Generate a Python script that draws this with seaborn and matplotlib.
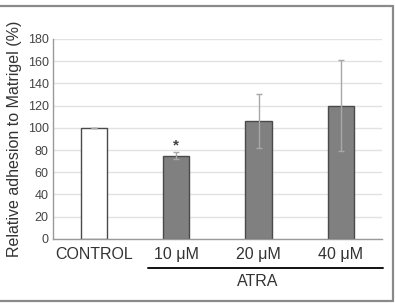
import matplotlib
matplotlib.use('Agg')
import matplotlib.pyplot as plt
import seaborn as sns
import pandas as pd
from matplotlib.lines import Line2D

# data
groups = ['CONTROL', '10 μM', '20 μM', '40 μM']
adhesion = [100, 75, 106, 120]
err = [0, 3, 24, 41]
bar_colors = ['white', '#808080', '#808080', '#808080']
y_ticks = [0, 20, 40, 60, 80, 100, 120, 140, 160, 180]

df = pd.DataFrame({'group': groups, 'adhesion': adhesion})

sns.set_style('white')
plt.rcParams['font.family'] = ['Liberation Sans', 'DejaVu Sans']

fig = plt.figure(figsize=(3.95, 3.04), dpi=100)
ax = fig.add_axes([0.134, 0.214, 0.833, 0.658])

sns.barplot(data=df, x='group', y='adhesion', hue='group', palette=bar_colors,
            legend=False, width=0.32, edgecolor='#4a4a4a', linewidth=1.0,
            ax=ax, zorder=2)
ax.errorbar(range(len(groups)), adhesion, yerr=err, fmt='none',
            ecolor='#a8a8a8', elinewidth=1.0, capsize=2.5, capthick=1.0, zorder=3)

# significance star
ax.text(1, 84, '*', ha='center', va='center', fontsize=11, color='#444444',
        fontweight='bold')

ax.set_xlim(-0.5, len(groups) - 0.5)
ax.set_ylim(0, 180)
ax.set_yticks(y_ticks)
ax.yaxis.grid(True, color='#e2e2e2', linewidth=1.0, zorder=0)
ax.set_axisbelow(True)
for s in ['top', 'right']:
    ax.spines[s].set_visible(False)
for s in ['left', 'bottom']:
    ax.spines[s].set_color('#9a9a9a')
    ax.spines[s].set_linewidth(1.0)
ax.tick_params(axis='y', labelsize=9, colors='#555555', length=2, width=0.8, pad=1)
ax.tick_params(axis='y', labelcolor='#444444')
ax.tick_params(axis='x', labelsize=11.5, length=0, pad=6, labelcolor='#333333')
ax.set_xlabel('')
ax.set_ylabel('Relative adhesion to Matrigel (%)', fontsize=11.5, color='#333333')
ax.yaxis.set_label_coords(-0.094, 0.5)

# ATRA bracket line under the treated groups
fig.add_artist(Line2D([148 / 395, 383 / 395], [1 - 267.7 / 304] * 2,
                      color='#111111', linewidth=1.4))
fig.text(258 / 395, 1 - 281 / 304, 'ATRA', ha='center', va='center',
         fontsize=11.5, color='#333333')

# outer frame (top, right, bottom)
frame_kw = dict(color='#8a8a8a', linewidth=1.6)
fig.add_artist(Line2D([0, 393 / 395], [1 - 5.5 / 304] * 2, **frame_kw))
fig.add_artist(Line2D([393 / 395] * 2, [1 - 5.5 / 304, 1 - 300.5 / 304], **frame_kw))
fig.add_artist(Line2D([0, 393 / 395], [1 - 300.5 / 304] * 2, **frame_kw))

fig.savefig('out.png', dpi=100)
